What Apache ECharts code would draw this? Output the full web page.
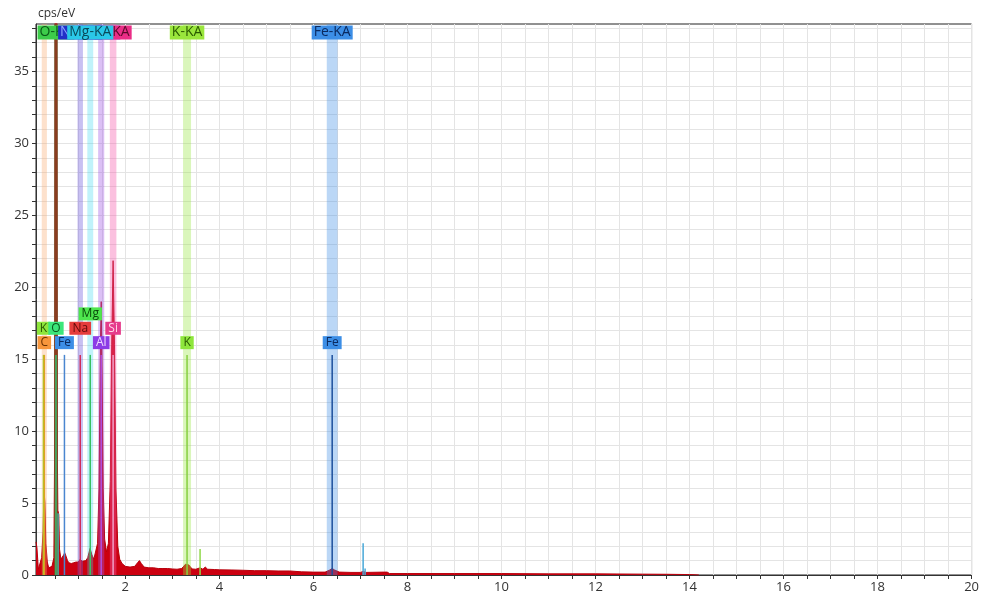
<!DOCTYPE html>
<html>
<head>
<meta charset="utf-8">
<title>EDS spectrum</title>
<script src="https://cdn.jsdelivr.net/npm/echarts@6/dist/echarts.min.js"></script>
<style>
  html, body { margin: 0; padding: 0; background: #ffffff; }
  #chart { width: 982px; height: 595px; }
</style>
</head>
<body>
<div id="chart"></div>
<script>
// Measured spectrum: energy (keV) and intensity (cps/eV)
const energy = [
  0.10, 0.12, 0.15, 0.18, 0.22, 0.25, 0.27, 0.29, 0.31, 0.34, 0.37, 0.40, 0.44, 0.48,
  0.495, 0.505, 0.525, 0.545, 0.555, 0.565, 0.585, 0.60, 0.63, 0.66, 0.69, 0.71, 0.74,
  0.77, 0.80, 0.85, 0.90, 0.95, 1.00, 1.04, 1.08, 1.12, 1.16, 1.20, 1.25, 1.29, 1.33,
  1.37, 1.41, 1.44, 1.47, 1.487, 1.50, 1.53, 1.56, 1.60, 1.64, 1.68, 1.71, 1.74, 1.77,
  1.80, 1.84, 1.88, 1.93, 2.00, 2.10, 2.20, 2.26, 2.30, 2.34, 2.40, 2.50, 2.60, 2.70,
  2.80, 2.90, 3.00, 3.10, 3.20, 3.28, 3.31, 3.35, 3.42, 3.50, 3.59, 3.65, 3.70, 3.75,
  3.90, 4.00, 4.25, 4.50, 4.75, 5.00, 5.25, 5.50, 5.75, 6.00, 6.25, 6.35, 6.40, 6.45,
  6.55, 6.80, 7.00, 7.06, 7.12, 7.50, 7.57, 7.62, 8.00, 9.00, 10.00, 11.00, 12.00,
  13.00, 13.50, 14.00, 14.20
];
const counts = [
  2.3, 1.9, 0.4, 0.3, 1.2, 3.0, 5.9, 5.0, 2.2, 0.9, 0.5, 0.4, 0.6, 1.2,
  8.0, 45.0, 60.0, 45.0, 8.0, 4.5, 4.2, 1.8, 1.1, 1.0, 1.4, 1.55, 1.3,
  1.0, 0.85, 0.8, 0.85, 0.9, 0.9, 1.1, 0.95, 0.95, 1.0, 1.2, 1.85, 1.4, 1.1,
  1.2, 2.2, 6.0, 16.0, 19.0, 16.0, 6.0, 2.5, 1.6, 2.2, 6.5, 16.0, 21.85, 16.0,
  6.0, 2.0, 1.1, 0.8, 0.6, 0.55, 0.6, 0.85, 1.0, 0.8, 0.55, 0.5, 0.5, 0.45,
  0.45, 0.45, 0.42, 0.4, 0.45, 0.75, 0.85, 0.7, 0.42, 0.4, 0.5, 0.4, 0.55, 0.4,
  0.38, 0.36, 0.35, 0.33, 0.3, 0.3, 0.28, 0.28, 0.22, 0.2, 0.2, 0.35, 0.45, 0.35,
  0.2, 0.18, 0.18, 0.25, 0.18, 0.2, 0.2, 0.1, 0.1, 0.1, 0.1, 0.08, 0.08,
  0.06, 0.05, 0.03, 0.0
];

// Element line markers: name, energy (keV), marker height, line colour
const markerNames   = ['K', 'C', 'O', 'Fe', 'Na', 'Mg', 'Al', 'Si', 'K', 'Fe'];
const markerEnergy  = [0.26, 0.277, 0.525, 0.705, 1.041, 1.254, 1.487, 1.740, 3.313, 6.400];
const markerHeight  = [15.3, 15.3, 15.3, 15.3, 15.3, 15.3, 15.3, 15.3, 15.3, 15.3];
const markerColors  = ['#9fd42c', '#e0a020', '#34c070', '#4a86d0', '#d02a58', '#38c060', '#b050e0', '#f0a0c8', '#86d040', '#1c4f9c'];
// Label rows above the marker lines (level in cps/eV)
const markerLevel   = [17.15, 16.15, 17.15, 16.15, 17.15, 18.15, 16.15, 17.15, 16.15, 16.15];
const markerBoxBg   = ['#8ee63c', '#f7963c', '#3ce67a', '#3c8ee6', '#e63c3c', '#4ee64e', '#8c3ce6', '#e63c8c', '#8ee63c', '#3c8ee6'];
const markerBoxFg   = ['#2a5a00', '#6a3000', '#0a5a20', '#0a2a60', '#600a0a', '#0a4a0a', '#f0d8ff', '#ffd8e8', '#2a5a00', '#0a2a60'];

// Secondary lines (no label)
const minorEnergy = [0.57, 3.59, 7.058, 7.10];
const minorHeight = [4.3, 1.8, 2.2, 0.45];
const minorColors = ['#40b0a0', '#90d84a', '#48a8d8', '#48a8d8'];

// Shaded energy windows for the identified peaks
const bandNames  = ['C', 'O', 'Na', 'Mg', 'Al', 'Si', 'K', 'Fe'];
const bandEnergy = [0.277, 0.525, 1.041, 1.254, 1.487, 1.740, 3.313, 6.400];
const bandWidth  = [0.11, 0.085, 0.115, 0.125, 0.13, 0.14, 0.17, 0.23];
const bandColors = [
  'rgba(250,170,110,0.35)', 'rgba(80,120,50,0.5)', 'rgba(110,90,220,0.38)',
  'rgba(60,215,240,0.32)', 'rgba(160,90,230,0.38)', 'rgba(245,90,170,0.38)',
  'rgba(150,230,60,0.35)', 'rgba(60,140,230,0.35)'
];

// Peak identifications along the top edge (drawn in this order)
const topNames  = ['O-KA', 'Al-KA', 'Si-KA', 'Na-KA', 'Mg-KA', 'K-KA', 'Fe-KA'];
const topEnergy = [0.525, 1.487, 1.740, 1.041, 1.254, 3.313, 6.400];
const topBg     = ['#3dcc4a', '#a050e0', '#ea2d86', '#2230c8', '#2ac8e8', '#9ae63c', '#3c8ee6'];
const topFg     = ['#0a5a18', '#e8d0ff', '#5a0a2a', '#8aa8ff', '#0a4a5a', '#2a5a00', '#0a2a60'];

// Axis ticks and labels
const xMin = 0.1, xMax = 20, yMin = 0, yMax = 38.3;
const xTickLabels = [2, 4, 6, 8, 10, 12, 14, 16, 18, 20];
const yTickLabels = [0, 5, 10, 15, 20, 25, 30, 35];
const xTicks = [];
for (let v = 0.5; v <= xMax + 1e-9; v += 0.5) xTicks.push(+v.toFixed(1));
const yTicks = [];
for (let v = 0; v <= 38; v += 1) yTicks.push(v);

const FONT = '"Open Sans", "Noto Sans", sans-serif';

const spectrum = energy.map((e, i) => [e, counts[i]]);
const markers = markerEnergy.map((e, i) => [e, markerHeight[i], markerLevel[i], i]);
const minors = minorEnergy.map((e, i) => [e, minorHeight[i], i]);
const bands = bandEnergy.map((e, i) => [e, bandWidth[i], i]);
const tops = topEnergy.map((e, i) => [e, i]);

const chart = echarts.init(document.getElementById('chart'), null, { renderer: 'canvas' });

chart.setOption({
  animation: false,
  backgroundColor: '#ffffff',
  grid: {
    left: 36, right: 10, top: 24, bottom: 20,
    show: true, borderColor: '#222222', borderWidth: 1, backgroundColor: 'transparent'
  },
  xAxis: {
    type: 'value', min: xMin, max: xMax,
    axisLine: { lineStyle: { color: '#333333', width: 1 } },
    axisTick: { show: true, length: 4, inside: false, customValues: xTicks, lineStyle: { color: '#333333' } },
    axisLabel: { customValues: xTickLabels, color: '#333333', fontFamily: FONT, fontSize: 13, margin: 6 },
    splitLine: { show: true, lineStyle: { color: '#e4e4e4', width: 1 } }
  },
  yAxis: {
    type: 'value', min: yMin, max: yMax,
    name: 'cps/eV', nameLocation: 'end', nameGap: 4,
    nameTextStyle: { align: 'left', color: '#333333', fontFamily: FONT, fontSize: 12, padding: [0, 0, 0, 2] },
    axisLine: { show: true, lineStyle: { color: '#333333', width: 1 } },
    axisTick: { show: true, length: 4, inside: false, customValues: yTicks, lineStyle: { color: '#333333' } },
    axisLabel: { customValues: yTickLabels, color: '#333333', fontFamily: FONT, fontSize: 13, margin: 7 },
    splitLine: { show: true, lineStyle: { color: '#e4e4e4', width: 1 } }
  },
  series: [
    {
      name: 'spectrum', type: 'line', data: spectrum, z: 2,
      symbol: 'none', clip: true,
      lineStyle: { color: '#b8000c', width: 1 },
      areaStyle: { color: '#cc0010', opacity: 1 }
    },
    {
      name: 'bands', type: 'custom', data: bands, z: 3, clip: true,
      renderItem: function (params, api) {
        const e = api.value(0), w = api.value(1), i = api.value(2);
        const p0 = api.coord([e - w / 2, yMax]);
        const p1 = api.coord([e + w / 2, yMin]);
        return {
          type: 'rect',
          shape: { x: p0[0], y: p0[1], width: p1[0] - p0[0], height: p1[1] - p0[1] },
          style: { fill: bandColors[i] }
        };
      }
    },
    {
      name: 'minor lines', type: 'custom', data: minors, z: 4,
      renderItem: function (params, api) {
        const e = api.value(0), h = api.value(1), i = api.value(2);
        const a = api.coord([e, 0]), b = api.coord([e, h]);
        return {
          type: 'line',
          shape: { x1: a[0], y1: a[1], x2: b[0], y2: b[1] },
          style: { stroke: minorColors[i], lineWidth: 1.5 }
        };
      }
    },
    {
      name: 'markers', type: 'custom', data: markers, z: 5,
      renderItem: function (params, api) {
        const e = api.value(0), h = api.value(1), lvl = api.value(2), i = api.value(3);
        const a = api.coord([e, 0]), b = api.coord([e, h]), c = api.coord([e, lvl]);
        return {
          type: 'group',
          children: [
            {
              type: 'line',
              shape: { x1: a[0], y1: a[1], x2: b[0], y2: b[1] },
              style: { stroke: markerColors[i], lineWidth: 1.5 }
            },
            {
              type: 'text', z2: 10,
              x: c[0], y: c[1],
              style: {
                text: markerNames[i], align: 'center', verticalAlign: 'middle',
                font: '12px ' + FONT, fill: markerBoxFg[i],
                backgroundColor: markerBoxBg[i], padding: [1, 3, 0, 3]
              }
            }
          ]
        };
      }
    },
    {
      name: 'peak ids', type: 'custom', data: tops, z: 6,
      renderItem: function (params, api) {
        const e = api.value(0), i = api.value(1);
        const p = api.coord([e, yMax]);
        return {
          type: 'text',
          x: p[0], y: p[1] + 8.5,
          style: {
            text: topNames[i], align: 'center', verticalAlign: 'middle',
            font: '14px ' + FONT, fill: topFg[i],
            backgroundColor: topBg[i], padding: [0, 2, 0, 2]
          }
        };
      }
    }
  ]
});
</script>
</body>
</html>
